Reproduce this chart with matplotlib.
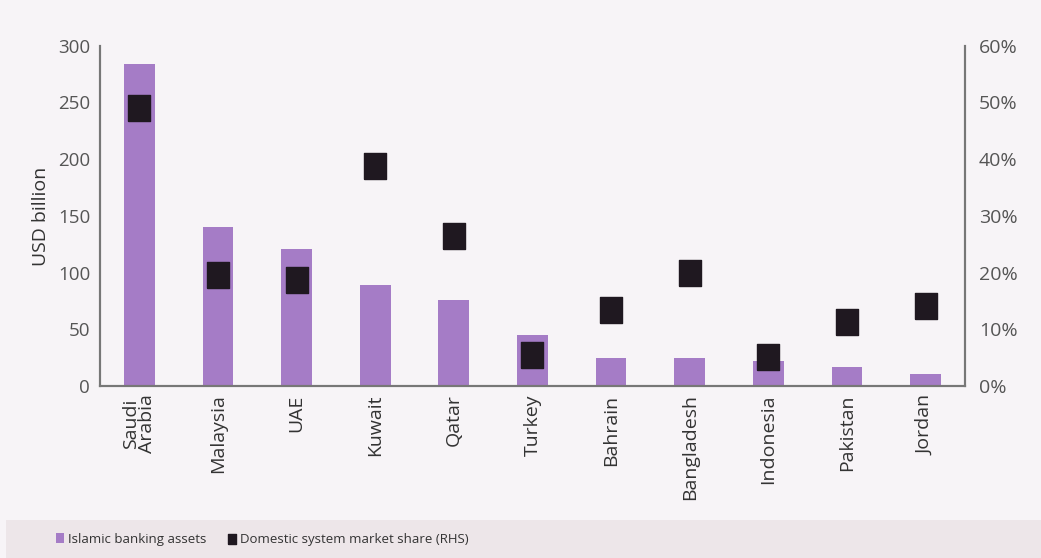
import matplotlib
matplotlib.use("Agg")
import matplotlib.pyplot as plt
import numpy as np
from matplotlib.patches import Rectangle
from matplotlib.ticker import FuncFormatter

plt.rcParams['font.family'] = ['Open Sans', 'DejaVu Sans']

countries = ["Saudi\nArabia", "Malaysia", "UAE", "Kuwait", "Qatar", "Turkey",
             "Bahrain", "Bangladesh", "Indonesia", "Pakistan", "Jordan"]
assets = [284, 140, 121, 89, 76, 45, 25, 25, 22, 17, 11]
share = [49, 19.6, 18.7, 38.8, 26.5, 5.5, 13.4, 20, 5.1, 11.3, 14.1]

bar_color = "#a57cc6"
mark_color = "#1f1820"
bg = "#f7f4f7"
grey = "#555555"

fig = plt.figure(figsize=(10.41, 5.58), dpi=100)
fig.patch.set_facecolor(bg)
# legend band at the bottom
fig.patches.append(Rectangle((0.006, 0.0), 0.994, 0.068, transform=fig.transFigure,
                             facecolor="#ede6e9", edgecolor="none", zorder=0))

ax = fig.add_axes([0.096, 0.308, 0.831, 0.610])
ax.set_facecolor(bg)
x = np.arange(len(countries))
b = ax.bar(x, assets, width=0.39, color=bar_color, label="Islamic banking assets", zorder=2)
ax.set_xlim(-0.5, len(countries) - 0.5)
ax.set_ylim(0, 300)
ax.set_yticks(range(0, 301, 50))
ax.set_xticks(x)
ax.set_xticklabels(countries, rotation=90, fontsize=14, color="#333333", linespacing=0.85)
ax.set_ylabel("USD billion", fontsize=14, color="#333333", labelpad=6)
ax.tick_params(axis="y", length=0, labelsize=13.5, labelcolor=grey, pad=7)
ax.tick_params(axis="x", length=0, pad=6)

# slightly taller than wide, like the reference squares
rect = [(-0.82, -1), (0.82, -1), (0.82, 1), (-0.82, 1), (-0.82, -1)]
ax2 = ax.twinx()
m = ax2.scatter(x, share, marker=rect, s=360, color=mark_color, zorder=3,
                label="Domestic system market share (RHS)")
ax2.set_ylim(0, 60)
ax2.set_yticks(range(0, 61, 10))
ax2.yaxis.set_major_formatter(FuncFormatter(lambda v, p: "%d%%" % v))
ax2.tick_params(axis="y", length=0, labelsize=14, labelcolor=grey, pad=10)

for a in (ax, ax2):
    a.spines["top"].set_visible(False)
    for s in ("left", "right", "bottom"):
        a.spines[s].set_color("#777777")
        a.spines[s].set_linewidth(1.5)

leg = fig.legend([b, m], ["Islamic banking assets", "Domestic system market share (RHS)"],
                 loc="center", bbox_to_anchor=(0.252, 0.034), ncol=2, frameon=False,
                 fontsize=9.5, handlelength=0.6, handleheight=0.8, handletextpad=0.35,
                 columnspacing=1.6, markerscale=0.4)
for t in leg.get_texts():
    t.set_color("#333333")

fig.savefig("out.png", dpi=100, facecolor=fig.get_facecolor())
